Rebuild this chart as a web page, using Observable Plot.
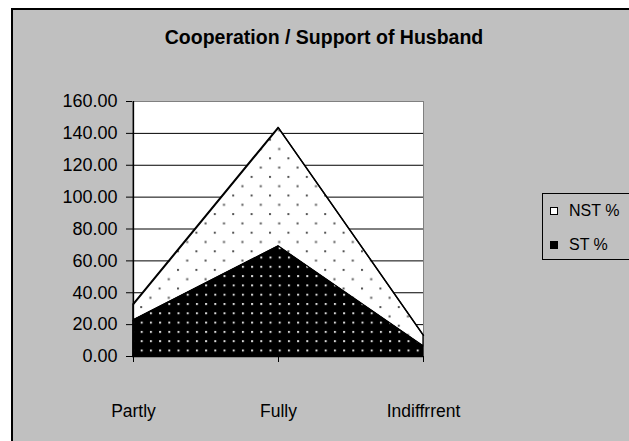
<!DOCTYPE html>
<html>
<head>
<meta charset="utf-8">
<script src="https://cdn.jsdelivr.net/npm/d3@7"></script>
<script src="https://cdn.jsdelivr.net/npm/@observablehq/plot@0.6"></script>
<style>
  html, body { margin: 0; padding: 0; background: #ffffff; }
  #wrap { position: relative; width: 629px; height: 441px; overflow: hidden; font-family: "Liberation Sans", Arial, sans-serif; }
  #frame { position: absolute; left: 11px; top: 8px; width: 700px; height: 500px; background: #c0c0c0; border: 2px solid #000; box-sizing: border-box; }
  #title { position: absolute; left: 0; top: 27.5px; width: 648px; text-align: center; font-weight: bold; font-size: 19.5px; line-height: 19.5px; color: #000; white-space: nowrap; }
  #chart { position: absolute; left: 0; top: 0; }
  #legend { position: absolute; left: 542px; top: 193px; width: 120px; height: 67px; box-sizing: border-box; border: 1.5px solid #000; background: #c0c0c0; }
  .item { position: absolute; left: 0; height: 20px; font-size: 16px; line-height: 20px; color: #000; white-space: nowrap; }
  .sw { position: absolute; left: 7px; top: 6px; width: 8px; height: 8px; box-sizing: border-box; border: 1px solid #000; }
  .lab { position: absolute; left: 26px; top: 0; }
</style>
</head>
<body>
<div id="wrap">
  <div id="frame"></div>
  <div id="chart"></div>
  <div id="title">Cooperation / Support of Husband</div>
  <div id="legend"></div>
</div>
<script>
// ---- data ----
const categories = ["Partly", "Fully", "Indiffrrent"];
const stValues = [22.7, 69.1, 6.4];
const nstValues = [10.0, 74.4, 6.9];
const yTicks = [0, 20, 40, 60, 80, 100, 120, 140, 160];
const seriesNames = ["NST %", "ST %"];

const rows = categories.map((c, i) => ({cat: c, st: stValues[i], total: stValues[i] + nstValues[i]}));

const chart = Plot.plot({
  width: 629,
  height: 441,
  marginLeft: 132,
  marginRight: 206,
  marginTop: 101,
  marginBottom: 85,
  style: {fontFamily: "'Liberation Sans', Arial, sans-serif", color: "#000", background: "transparent", overflow: "visible"},
  x: {type: "point", domain: categories, padding: 0},
  y: {domain: [0, 160]},
  marks: [
    Plot.frame({fill: "#ffffff", stroke: "#808080", strokeWidth: 1}),
    Plot.ruleY(yTicks.filter(d => d > 0 && d < 160), {stroke: "#000", strokeWidth: 1}),
    Plot.areaY(rows, {x: "cat", y1: "st", y2: "total", fill: "white", stroke: "#000", strokeWidth: 1.3, className: "nst-area"}),
    Plot.areaY(rows, {x: "cat", y1: 0, y2: "st", fill: "black", stroke: "#000", strokeWidth: 1, className: "st-area"}),
    Plot.lineY(rows, {x: "cat", y: "total", stroke: "#000", strokeWidth: 1.4}),
    Plot.ruleY([0], {stroke: "#000", strokeWidth: 1.3}),
    Plot.ruleX([categories[0]], {stroke: "#000", strokeWidth: 1.3}),
    Plot.axisY({ticks: yTicks, tickFormat: d => d.toFixed(2), tickSize: 6, tickPadding: 9, fontSize: 18, label: null, stroke: "#000"}),
    Plot.axisX({tickSize: 6, tickPadding: 42, fontSize: 17.5, label: null, stroke: "#000"})
  ]
});
document.getElementById("chart").appendChild(chart);

// patterns
const svg = d3.select(chart);
const defs = svg.insert("defs", ":first-child");
const pST = defs.append("pattern").attr("id", "patST").attr("patternUnits", "userSpaceOnUse")
  .attr("x", 141.7 - 1).attr("y", 304 - 1).attr("width", 9.2).attr("height", 9.3);
pST.append("rect").attr("width", 9.2).attr("height", 9.3).attr("fill", "#000");
pST.append("rect").attr("x", 0).attr("y", 0).attr("width", 2).attr("height", 2).attr("fill", "#d8d8d8");
const pN = defs.append("pattern").attr("id", "patNST").attr("patternUnits", "userSpaceOnUse")
  .attr("x", 270 - 1).attr("y", 158.3 - 1).attr("width", 18.4).attr("height", 18.6);
pN.append("rect").attr("width", 18.4).attr("height", 18.6).attr("fill", "#fff");
pN.append("rect").attr("x", 0).attr("y", 0).attr("width", 2).attr("height", 2).attr("fill", "#555");
pN.append("rect").attr("x", 9.2).attr("y", 9.3).attr("width", 2).attr("height", 2).attr("fill", "#555");
svg.selectAll(".st-area, .st-area path").attr("fill", "url(#patST)");
svg.selectAll(".nst-area, .nst-area path").attr("fill", "url(#patNST)");

// legend
const legend = document.getElementById("legend");
const swFill = ["#ffffff", "#000000"];
seriesNames.forEach((name, i) => {
  const item = document.createElement("div");
  item.className = "item";
  item.style.top = (7 + i * 34) + "px";
  const sw = document.createElement("div");
  sw.className = "sw";
  sw.style.background = swFill[i];
  const lab = document.createElement("span");
  lab.className = "lab";
  lab.textContent = name;
  item.appendChild(sw);
  item.appendChild(lab);
  legend.appendChild(item);
});
</script>
</body>
</html>
